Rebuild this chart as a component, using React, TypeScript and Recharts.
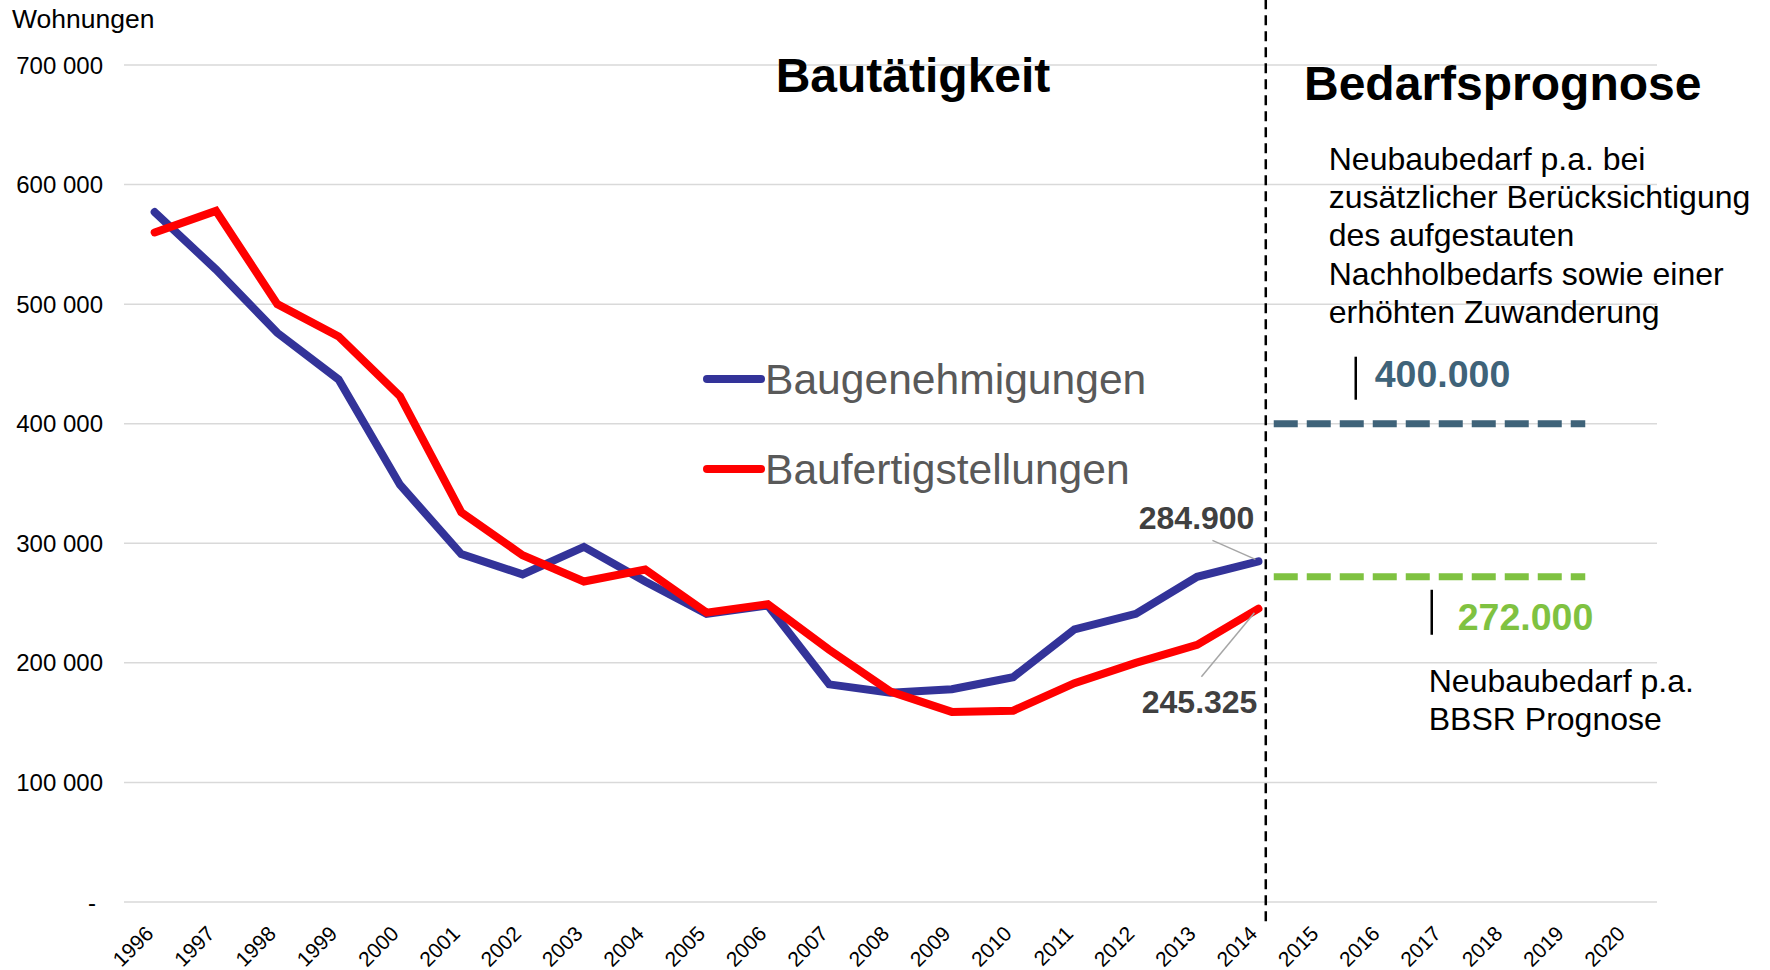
import {
  LineChart,
  Line,
  XAxis,
  YAxis,
  CartesianGrid,
  ReferenceLine,
  ReferenceDot,
  Legend,
} from "recharts";

const years = [
  1996, 1997, 1998, 1999, 2000, 2001, 2002, 2003, 2004, 2005,
  2006, 2007, 2008, 2009, 2010, 2011, 2012, 2013, 2014,
];
const baugenehmigungen = [
  577000, 529000, 476000, 437000, 349000, 291000, 274000, 297000, 268000, 241000,
  248000, 182000, 175000, 178000, 188000, 228000, 241000, 272000, 284900,
];
const baufertigstellungen = [
  560000, 578000, 500000, 473000, 423000, 326000, 290000, 268000, 278000, 242000,
  249000, 211000, 176000, 159000, 160000, 183000, 200000, 215000, 245325,
];
const tickYears = [
  1996, 1997, 1998, 1999, 2000, 2001, 2002, 2003, 2004, 2005, 2006, 2007, 2008,
  2009, 2010, 2011, 2012, 2013, 2014, 2015, 2016, 2017, 2018, 2019, 2020,
];
const valueTicks = [0, 100000, 200000, 300000, 400000, 500000, 600000, 700000];
const legendOrder = ["genehmigt", "fertig"];

// Bedarfsprognose (Neubaubedarf p.a.)
const bedarfHoch = 400000;
const bedarfBBSR = 272000;
const prognoseSpan = [2014.25, 2019.33];
const dividerYear = 2014.12;

const textHoch = [
  "Neubaubedarf p.a. bei",
  "zusätzlicher Berücksichtigung",
  "des aufgestauten",
  "Nachholbedarfs sowie einer",
  "erhöhten Zuwanderung",
];
const textBBSR = ["Neubaubedarf p.a.", "BBSR Prognose"];

const data = years.map((year, i) => ({
  year,
  genehmigt: baugenehmigungen[i],
  fertig: baufertigstellungen[i],
}));
const prognoseHoch = prognoseSpan.map((year) => ({ year, bedarf: bedarfHoch }));
const prognoseNiedrig = prognoseSpan.map((year) => ({ year, bedarf: bedarfBBSR }));

const lastYear = years[years.length - 1];
const lastGenehmigt = baugenehmigungen[baugenehmigungen.length - 1];
const lastFertig = baufertigstellungen[baufertigstellungen.length - 1];

const BLUE = "#333399";
const RED = "#FF0000";
const STEEL = "#3F6379";
const GREEN = "#7FC241";
const LABEL_GREY = "#404040";

const groupSpace = (v: number) => String(v).replace(/\B(?=(\d{3})+(?!\d))/g, " ");
const groupDot = (v: number) => String(v).replace(/\B(?=(\d{3})+(?!\d))/g, ".");

const YearTick = ({ x, y, payload }: any) => {
  const ty = y + 25;
  return (
    <text
      x={x}
      y={ty}
      transform={`rotate(-45 ${x} ${ty})`}
      textAnchor="end"
      fontSize={21}
      fill="#000"
    >
      {payload.value}
    </text>
  );
};

const ValueTick = ({ x, y, payload }: any) => {
  const v = payload.value;
  return (
    <text x={v === 0 ? x - 20 : x - 13} y={y} dy="0.36em" textAnchor="end" fontSize={24} fill="#000">
      {v === 0 ? "-" : groupSpace(v)}
    </text>
  );
};

const EndLabelTop = ({ cx, cy }: any) => (
  <g>
    <line x1={cx - 46} y1={cy - 21} x2={cx - 3} y2={cy - 2} stroke="#A6A6A6" strokeWidth={1.5} />
    <text x={cx - 4} y={cy - 32} textAnchor="end" fontSize={32} fontWeight="bold" fill={LABEL_GREY}>
      {groupDot(lastGenehmigt)}
    </text>
  </g>
);

const EndLabelBottom = ({ cx, cy }: any) => (
  <g>
    <line x1={cx - 57} y1={cy + 68} x2={cx - 4} y2={cy + 4} stroke="#A6A6A6" strokeWidth={1.5} />
    <text x={cx - 1} y={cy + 104} textAnchor="end" fontSize={32} fontWeight="bold" fill={LABEL_GREY}>
      {groupDot(lastFertig)}
    </text>
  </g>
);

const HochLabel = ({ cx, cy }: any) => (
  <g>
    {textHoch.map((line, i) => (
      <text key={line} x={cx + 55} y={cy - 254 + i * 38.3} fontSize={32} fill="#000">
        {line}
      </text>
    ))}
    <line x1={cx + 82} y1={cy - 67} x2={cx + 82} y2={cy - 24} stroke="#000" strokeWidth={2.5} />
    <text x={cx + 101} y={cy - 37} fontSize={37.5} fontWeight="bold" fill={STEEL}>
      {groupDot(bedarfHoch)}
    </text>
  </g>
);

const BBSRLabel = ({ cx, cy }: any) => (
  <g>
    <line x1={cx + 158} y1={cy + 13} x2={cx + 158} y2={cy + 58} stroke="#000" strokeWidth={2.5} />
    <text x={cx + 184} y={cy + 53} fontSize={37.5} fontWeight="bold" fill={GREEN}>
      {groupDot(bedarfBBSR)}
    </text>
    {textBBSR.map((line, i) => (
      <text key={line} x={cx + 155} y={cy + 115 + i * 38} fontSize={32} fill="#000">
        {line}
      </text>
    ))}
  </g>
);

const renderLegend = (props: any) => {
  const items = (props.payload || [])
    .filter((p: any) => legendOrder.includes(p.dataKey))
    .sort((a: any, b: any) => legendOrder.indexOf(a.dataKey) - legendOrder.indexOf(b.dataKey));
  return (
    <div style={{ display: "flex", flexDirection: "column", gap: 48 }}>
      {items.map((item: any) => (
        <div key={item.value} style={{ display: "flex", alignItems: "center", height: 42 }}>
          <svg width={62} height={12} style={{ display: "block" }}>
            <line x1={4} y1={6} x2={58} y2={6} stroke={item.color} strokeWidth={8} strokeLinecap="round" />
          </svg>
          <span style={{ fontSize: 42.6, lineHeight: "42px", color: "#595959" }}>{item.value}</span>
        </div>
      ))}
    </div>
  );
};

export default function App() {
  return (
    <div
      style={{
        position: "absolute",
        left: 0,
        top: 0,
        width: 1770,
        height: 970,
        background: "#fff",
        fontFamily: "Arial, 'Liberation Sans', sans-serif",
      }}
    >
      <LineChart
        width={1770}
        height={970}
        data={data}
        margin={{ top: 65, right: 113, bottom: 0, left: 0 }}
      >
        <CartesianGrid horizontal vertical={false} stroke="#D9D9D9" strokeWidth={1.5} />
        <XAxis
          dataKey="year"
          type="number"
          domain={[1995.5, 2020.5]}
          ticks={tickYears}
          interval={0}
          axisLine={false}
          tickLine={false}
          height={68}
          tick={<YearTick />}
        />
        <YAxis
          type="number"
          domain={[0, 700000]}
          ticks={valueTicks}
          interval={0}
          axisLine={false}
          tickLine={false}
          width={124}
          tick={<ValueTick />}
        />
        <Legend
          layout="vertical"
          align="center"
          verticalAlign="middle"
          content={renderLegend}
          wrapperStyle={{ left: 703, top: 358, width: "auto" }}
        />
        <ReferenceLine
          segment={[
            { x: dividerYear, y: 755000 },
            { x: dividerYear, y: -20000 },
          ]}
          ifOverflow="visible"
          stroke="#000"
          strokeWidth={2.5}
          strokeDasharray="10 6"
        />
        <Line
          data={prognoseHoch}
          dataKey="bedarf"
          name="Bedarf hoch"
          stroke={STEEL}
          strokeWidth={7}
          strokeDasharray="24 9"
          dot={false}
          legendType="none"
          isAnimationActive={false}
        />
        <Line
          data={prognoseNiedrig}
          dataKey="bedarf"
          name="Bedarf BBSR"
          stroke={GREEN}
          strokeWidth={7}
          strokeDasharray="24 9"
          dot={false}
          legendType="none"
          isAnimationActive={false}
        />
        <Line
          dataKey="genehmigt"
          name="Baugenehmigungen"
          stroke={BLUE}
          strokeWidth={8}
          strokeLinecap="round"
          dot={false}
          isAnimationActive={false}
        />
        <Line
          dataKey="fertig"
          name="Baufertigstellungen"
          stroke={RED}
          strokeWidth={8}
          strokeLinecap="round"
          dot={false}
          isAnimationActive={false}
        />
        <ReferenceDot x={lastYear} y={lastGenehmigt} r={0} shape={(p: any) => <EndLabelTop {...p} />} />
        <ReferenceDot x={lastYear} y={lastFertig} r={0} shape={(p: any) => <EndLabelBottom {...p} />} />
        <ReferenceDot x={prognoseSpan[0]} y={bedarfHoch} r={0} shape={(p: any) => <HochLabel {...p} />} />
        <ReferenceDot x={prognoseSpan[0]} y={bedarfBBSR} r={0} shape={(p: any) => <BBSRLabel {...p} />} />
      </LineChart>
      <svg
        width={1770}
        height={970}
        style={{ position: "absolute", left: 0, top: 0, pointerEvents: "none" }}
      >
        <text x={12} y={28} fontSize={26.5} fill="#000">
          Wohnungen
        </text>
        <text x={913} y={92} textAnchor="middle" fontSize={48} fontWeight="bold" fill="#000">
          Bautätigkeit
        </text>
        <text x={1304} y={100} fontSize={48} fontWeight="bold" fill="#000">
          Bedarfsprognose
        </text>
      </svg>
    </div>
  );
}
